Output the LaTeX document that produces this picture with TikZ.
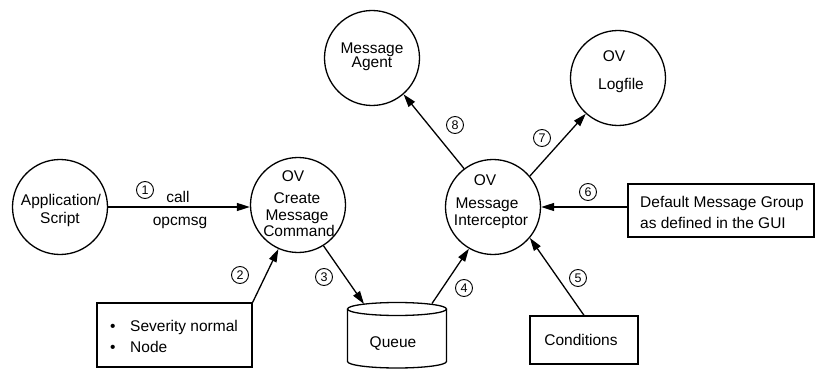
\documentclass[tikz,border=0pt]{standalone}
\usepackage{fontspec}
\setmainfont{Liberation Sans}
\usetikzlibrary{arrows.meta}
\begin{document}
\begin{tikzpicture}[x=1pt,y=-1pt,
  every node/.style={font=\fontsize{15.5}{17}\selectfont},
  bubble/.style={circle,draw,line width=1.3pt,minimum size=95pt,inner sep=0pt},
  txt/.style={anchor=base,inner sep=0pt},
  ltxt/.style={anchor=base west,inner sep=0pt},
  numc/.style={circle,draw,line width=0.9pt,minimum size=17pt,inner sep=0pt,font=\fontsize{12.5}{12.5}\selectfont},
  box/.style={draw,line width=1.3pt,inner sep=0pt},
  arr/.style={line width=1.3pt,-{Triangle[length=13pt,width=8pt]}},
  ]
\useasboundingbox (0,0) rectangle (815,369);

% circles
\node[bubble] (app) at (60,207) {};
\node[txt] (appt1) at (61,205) {Application/};
\node[txt] (appt2) at (60,223) {Script};

\node[bubble] (create) at (298,205) {};
\node[txt] (crt1) at (293,182) {OV};
\node[txt] (crt2) at (297,203) {Create};
\node[txt] (crt3) at (297,220) {Message};
\node[txt] (crt4) at (299,236) {Command};

\node[bubble] (inter) at (493,207) {};
\node[txt] (int1) at (485,185) {OV};
\node[txt] (int2) at (487,208) {Message};
\node[txt] (int3) at (491,225) {Interceptor};

\node[bubble] (agent) at (372,58) {};
\node[txt] (agt1) at (372,54) {Message};
\node[txt] (agt2) at (372,68) {Agent};

\node[bubble] (logf) at (618,78) {};
\node[txt] (lgt1) at (614,62) {OV};
\node[txt] (lgt2) at (621,90) {Logfile};

% boxes
\node[box,minimum width=155pt,minimum height=64pt] (sev) at (174.5,335) {};
\node[ltxt] (sevb1) at (110,331) {\textbullet};
\node[ltxt] (sevt1) at (130,331) {Severity normal};
\node[ltxt] (sevb2) at (110,352) {\textbullet};
\node[ltxt] (sevt2) at (130,352) {Node};

\node[box,minimum width=186pt,minimum height=53pt] (def) at (721,210.5) {};
\node[ltxt] (deft1) at (640,207) {Default Message Group};
\node[ltxt] (deft2) at (640,228) {as defined in the GUI};

\node[box,minimum width=108pt,minimum height=48pt] (cond) at (584,340) {};
\node[txt] (condt) at (581,345) {Conditions};

% queue
\draw[line width=1.3pt] (347.5,309) -- (347.5,361.5) arc[start angle=180,end angle=360,x radius=49.5pt,y radius=6.5pt] -- (446.5,309);
\draw[line width=1.3pt] (397,309) ellipse [x radius=49.5pt,y radius=6.5pt];
\node[txt] (queue) at (393,347) {Queue};
\coordinate (qin) at (364,304);
\coordinate (qout) at (432,303.5);

% connectors
\draw[arr] (app.east) -- (app.east -| create.west);
\draw[arr] (sev.north east) -- (create.246);
\draw[arr] (create.302) -- (qin);
\draw[arr] (qout) -- (inter.240);
\draw[arr] (cond.north) -- (inter.320);
\draw[arr] (def.west |- inter.east) -- (inter.east);
\draw[arr] (inter.40) -- (logf.228);
\draw[arr] (inter.127) -- (agent.311);

% labels
\node[txt] (call) at (178,202) {call};
\node[txt] (opc) at (180,225) {opcmsg};
\node[numc] (n1) at (145,190) {1};
\node[numc] (n2) at (240,275) {2};
\node[numc] (n3) at (324,277) {3};
\node[numc] (n4) at (464,288) {4};
\node[numc] (n5) at (578,278) {5};
\node[numc] (n6) at (588,192) {6};
\node[numc] (n7) at (542,138) {7};
\node[numc] (n8) at (455,125) {8};
\end{tikzpicture}
\end{document}
